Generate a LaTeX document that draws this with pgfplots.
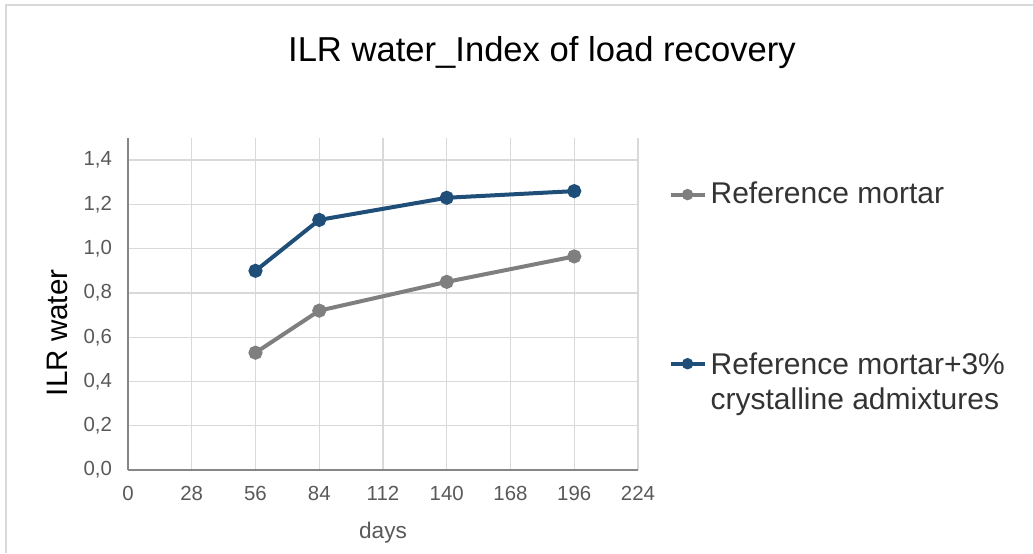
\documentclass[border=0pt]{standalone}
\usepackage{pgfplots}
\pgfplotsset{compat=1.18}
\usepackage{fontspec}
\setmainfont{Liberation Sans}
\definecolor{refgray}{HTML}{7F7F7F}
\definecolor{refblue}{HTML}{1F4E79}
\definecolor{gridc}{HTML}{D9D9D9}
\definecolor{axc}{HTML}{868686}
\definecolor{txt}{HTML}{595959}
\begin{document}
\begin{tikzpicture}
\useasboundingbox (0,0) rectangle (516.5pt,276.5pt);
\draw[gridc, line width=1pt] (3pt,0) -- (3pt,274pt) -- (516.5pt,274pt);
\node[font=\fontsize{17.3}{20}\selectfont, text=black] at (271pt,250pt) {ILR water\_Index of load recovery};
\begin{axis}[
  at={(64pt,41.5pt)}, anchor=south west,
  scale only axis, width=255pt, height=166pt,
  xmin=0, xmax=224, ymin=0, ymax=1.5,
  xtick={0,28,56,84,112,140,168,196,224},
  ytick={0,0.2,0.4,0.6,0.8,1.0,1.2,1.4},
  axis x line*=bottom, axis y line*=left,
  axis line style={-, draw=axc, line width=1.4pt},
  major tick length=0pt,
  grid=major,
  major grid style={draw=gridc, line width=0.7pt},
  /pgf/number format/assume math mode=true,
  tick label style={font=\fontsize{10.2}{12}\selectfont, text=txt},
  xticklabel style={yshift=-4.5pt},
  yticklabel style={xshift=-4.5pt, /pgf/number format/.cd, fixed, fixed zerofill, precision=1, use comma},
  scaled y ticks=false,
  xlabel={days},
  xlabel style={font=\fontsize{11.3}{13}\selectfont, text=txt, at={(axis description cs:0.5,-0.19)}, anchor=center},
  ylabel={ILR water},
  ylabel style={font=\fontsize{14.8}{17}\selectfont, text=black, at={(axis description cs:-0.139,0.413)}, anchor=center, rotate=0},
  legend cell align=left,
  legend style={draw=none, fill=none, at={(1.059,0.88)}, anchor=north west, inner sep=0pt, row sep=67.5pt,
    font=\fontsize{15}{17.5}\selectfont, text=black!80, nodes={inner sep=2pt}},
  legend image post style={mark size=1.8pt},
]
\addplot[color=refgray, line width=2pt, mark=*, mark size=2.5pt] coordinates {(56,0.53) (84,0.72) (140,0.85) (196,0.965)};
\addlegendentry{Reference mortar}
\addplot[color=refblue, line width=2pt, mark=*, mark size=2.5pt] coordinates {(56,0.90) (84,1.13) (140,1.23) (196,1.26)};
\addlegendentry{\begin{tabular}[t]{@{}l@{}}Reference mortar+3\%\\crystalline admixtures\end{tabular}}
\end{axis}
\end{tikzpicture}
\end{document}
